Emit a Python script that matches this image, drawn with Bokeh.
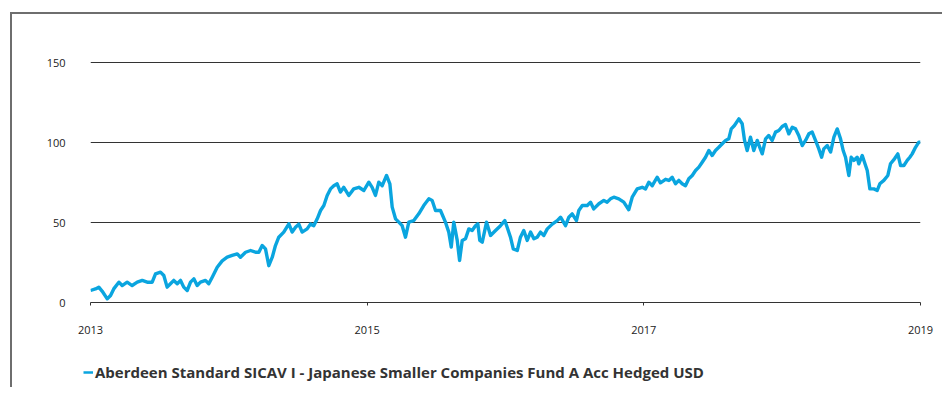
from bokeh.plotting import figure
from bokeh.layouts import column
from bokeh.models import Range1d, FixedTicker, Legend, LegendItem
from bokeh.embed import file_html
from bokeh.resources import INLINE

# decimal years
years = [
    2013.000, 2013.036, 2013.060, 2013.085, 2013.121, 2013.145, 2013.168, 2013.205,
    2013.229, 2013.265, 2013.301, 2013.338, 2013.374, 2013.410, 2013.446, 2013.470,
    2013.506, 2013.530, 2013.554, 2013.578, 2013.602, 2013.627, 2013.651, 2013.674,
    2013.699, 2013.723, 2013.747, 2013.771, 2013.795, 2013.831, 2013.855, 2013.880,
    2013.916, 2013.952, 2013.988, 2014.024, 2014.061, 2014.084, 2014.121, 2014.157,
    2014.193, 2014.217, 2014.241, 2014.265, 2014.289, 2014.314, 2014.337, 2014.361,
    2014.397, 2014.434, 2014.458, 2014.482, 2014.506, 2014.530, 2014.566, 2014.590,
    2014.614, 2014.639, 2014.663, 2014.687, 2014.711, 2014.735, 2014.759, 2014.783,
    2014.807, 2014.831, 2014.867, 2014.903, 2014.940, 2014.976, 2015.012, 2015.036,
    2015.060, 2015.084, 2015.109, 2015.140, 2015.164, 2015.181, 2015.205, 2015.229,
    2015.253, 2015.277, 2015.301, 2015.337, 2015.373, 2015.409, 2015.446, 2015.470,
    2015.494, 2015.530, 2015.566, 2015.590, 2015.608, 2015.626, 2015.651, 2015.668,
    2015.687, 2015.711, 2015.735, 2015.759, 2015.783, 2015.800, 2015.814, 2015.832,
    2015.863, 2015.892, 2015.928, 2015.964, 2015.995, 2016.012, 2016.036, 2016.056,
    2016.085, 2016.108, 2016.132, 2016.157, 2016.181, 2016.205, 2016.229, 2016.253,
    2016.277, 2016.302, 2016.338, 2016.374, 2016.398, 2016.434, 2016.458, 2016.482,
    2016.513, 2016.530, 2016.555, 2016.591, 2016.615, 2016.638, 2016.675, 2016.711,
    2016.735, 2016.759, 2016.783, 2016.819, 2016.855, 2016.891, 2016.916, 2016.952,
    2016.988, 2017.012, 2017.036, 2017.061, 2017.096, 2017.120, 2017.157, 2017.181,
    2017.205, 2017.229, 2017.253, 2017.277, 2017.301, 2017.325, 2017.350, 2017.374,
    2017.398, 2017.422, 2017.446, 2017.470, 2017.494, 2017.518, 2017.542, 2017.567,
    2017.591, 2017.614, 2017.632, 2017.655, 2017.687, 2017.711, 2017.728, 2017.747,
    2017.771, 2017.795, 2017.820, 2017.838, 2017.856, 2017.880, 2017.903, 2017.928,
    2017.952, 2017.976, 2018.000, 2018.024, 2018.048, 2018.073, 2018.097, 2018.120,
    2018.145, 2018.169, 2018.193, 2018.217, 2018.241, 2018.265, 2018.285, 2018.301,
    2018.326, 2018.350, 2018.374, 2018.398, 2018.422, 2018.441, 2018.458, 2018.482,
    2018.499, 2018.518, 2018.542, 2018.554, 2018.579, 2018.595, 2018.615, 2018.634,
    2018.663, 2018.687, 2018.706, 2018.735, 2018.764, 2018.783, 2018.812, 2018.836,
    2018.856, 2018.880, 2018.904, 2018.923, 2018.940, 2018.964, 2018.988, 2019.000,
]

# cumulative performance (%)
performance = [
    7.5, 8.5, 9.6, 7.0, 2.3, 4.4, 8.5, 12.7,
    10.6, 12.7, 10.6, 12.7, 13.8, 12.7, 12.7, 17.9,
    19.0, 16.9, 9.6, 11.7, 13.8, 11.7, 13.8, 9.6,
    7.5, 12.7, 14.8, 10.6, 12.7, 13.8, 11.7, 15.8,
    22.0, 26.0, 28.3, 29.4, 30.4, 28.3, 31.4, 32.5,
    31.4, 31.4, 35.6, 33.5, 23.0, 28.3, 35.6, 40.8,
    44.0, 49.2, 44.0, 47.0, 49.0, 44.0, 46.0, 49.0,
    48.0, 52.3, 57.5, 60.6, 66.9, 71.0, 73.0, 74.2,
    69.0, 72.0, 66.9, 71.0, 72.0, 70.0, 75.2, 72.0,
    66.9, 75.2, 73.0, 79.4, 74.2, 59.6, 52.3, 50.2,
    48.0, 40.8, 50.2, 51.2, 55.4, 60.6, 64.8, 63.8,
    57.5, 57.5, 50.2, 44.0, 34.6, 50.2, 38.8, 26.3,
    38.8, 39.8, 46.0, 45.0, 48.0, 49.2, 38.8, 37.7,
    50.2, 41.9, 45.0, 48.0, 51.2, 47.0, 40.8, 33.5,
    32.5, 40.8, 45.0, 38.8, 44.0, 39.8, 40.8, 44.0,
    41.9, 46.0, 49.0, 51.2, 53.3, 48.0, 53.3, 55.4,
    51.2, 57.5, 60.6, 60.6, 62.7, 58.5, 61.7, 63.8,
    62.7, 64.8, 65.8, 64.8, 62.7, 58.0, 65.8, 71.0,
    72.0, 71.0, 75.2, 73.0, 78.3, 74.8, 77.0, 76.3,
    78.3, 74.2, 76.3, 74.2, 73.0, 77.3, 79.4, 82.5,
    84.6, 87.7, 90.8, 95.0, 91.9, 95.0, 97.0, 99.2,
    101.3, 102.3, 108.5, 110.6, 114.8, 111.7, 101.3, 95.0,
    103.3, 95.0, 101.3, 97.0, 92.9, 102.3, 104.4, 101.3,
    106.5, 107.5, 110.0, 111.2, 105.4, 109.5, 108.5, 104.4,
    98.1, 101.3, 105.4, 106.5, 101.3, 96.0, 90.8, 96.0,
    98.1, 94.0, 103.3, 108.5, 102.3, 95.0, 90.8, 79.4,
    90.8, 88.8, 90.8, 86.7, 91.9, 87.7, 82.5, 71.0,
    71.0, 70.0, 74.2, 76.3, 79.4, 86.7, 89.8, 92.9,
    85.6, 85.6, 88.8, 90.8, 92.9, 97.0, 100.2, 100.2,
]

y_ticks = [0, 50, 100, 150]
x_ticks = [2013, 2015, 2017, 2019]
series_name = "Aberdeen Standard SICAV I - Japanese Smaller Companies Fund A Acc Hedged USD"

LINE = "#0aa5df"
INK = "#222222"
RULE = "#333333"
FONT = "Open Sans"

# ---- main chart ----
p = figure(
    frame_width=830, frame_height=241,
    min_border_left=78, min_border_right=22, min_border_top=47, min_border_bottom=45,
    x_range=Range1d(2013, 2019), y_range=Range1d(0, 150.625),
    output_backend="svg", toolbar_location=None, tools="",
)
p.outline_line_color = None
p.background_fill_color = "white"
p.border_fill_color = "white"

p.line(years, performance, line_color=LINE, line_width=3.4, line_join="round")

p.yaxis.ticker = FixedTicker(ticks=y_ticks)
p.yaxis.axis_line_color = None
p.yaxis.major_tick_line_color = None
p.yaxis.minor_tick_line_color = None
p.yaxis.major_label_standoff = 19
p.yaxis.major_label_text_font = FONT
p.yaxis.major_label_text_font_size = "11px"
p.yaxis.major_label_text_color = INK
p.ygrid.ticker = FixedTicker(ticks=[50, 100, 150])
p.ygrid.grid_line_color = RULE
p.ygrid.grid_line_width = 1

p.xaxis.ticker = FixedTicker(ticks=x_ticks)
p.xaxis.axis_line_color = RULE
p.xaxis.axis_line_width = 1.2
p.xaxis.major_tick_line_color = RULE
p.xaxis.major_tick_in = 0
p.xaxis.major_tick_out = 3
p.xaxis.minor_tick_line_color = None
p.xaxis.major_label_standoff = 20
p.xaxis.major_label_text_font = FONT
p.xaxis.major_label_text_font_size = "11px"
p.xaxis.major_label_text_color = INK
p.xgrid.grid_line_color = None

# ---- legend strip (its frame starts where the legend key sits) ----
lg = figure(
    width=930, height=40,
    min_border_left=71, min_border_right=0, min_border_top=10, min_border_bottom=0,
    x_range=Range1d(0, 1), y_range=Range1d(0, 1),
    x_axis_location=None, y_axis_location=None,
    output_backend="svg", toolbar_location=None, tools="",
)
lg.frame_align = False
lg.outline_line_color = None
lg.grid.grid_line_color = None
lg.background_fill_color = "white"
lg.border_fill_color = "white"
key = lg.line(years, performance, line_color=LINE, line_width=2.5)

legend = Legend(
    items=[LegendItem(label=series_name, renderers=[key])],
    location="left", orientation="horizontal",
    padding=0, margin=0, spacing=0,
    glyph_width=10, glyph_height=16, label_standoff=2,
    label_text_font=FONT, label_text_font_size="15px", label_text_font_style="bold",
    label_text_color="#333333",
    border_line_color=None, background_fill_alpha=0,
)
lg.add_layout(legend, "center")

layout = column(p, lg, spacing=0)
layout.styles = {
    "margin-left": "10px", "margin-top": "12px",
    "border-left": "2px solid #6e6e6e", "border-top": "2px solid #6e6e6e",
}

open("out.html", "w").write(file_html(layout, INLINE))
